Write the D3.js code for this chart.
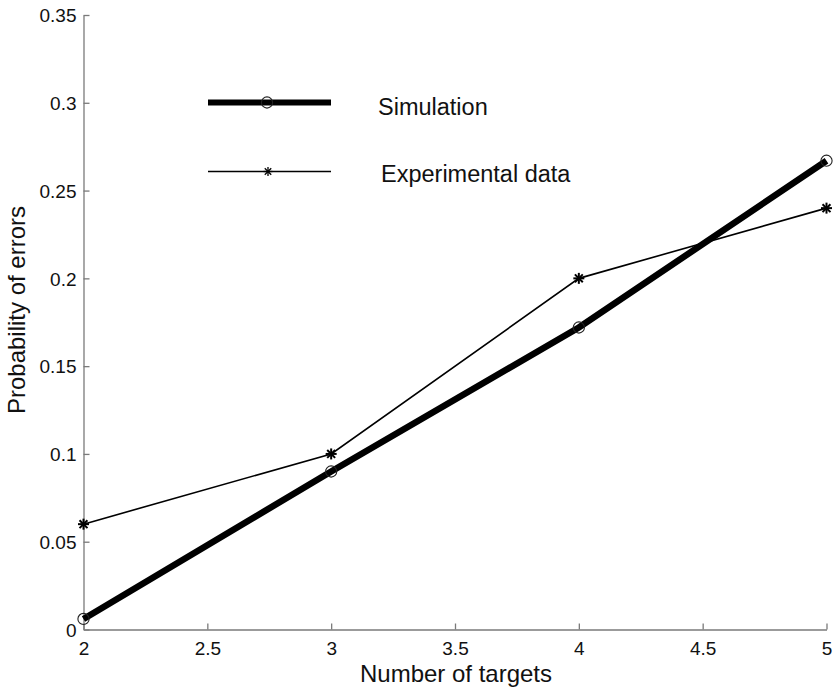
<!DOCTYPE html>
<html>
<head>
<meta charset="utf-8">
<script src="https://cdn.jsdelivr.net/npm/d3@7"></script>
<style>
  body { margin: 0; background: #fff; }
  svg { display: block; font-family: "Liberation Sans", Arial, Helvetica, sans-serif; }
</style>
</head>
<body>
<svg width="836" height="688"></svg>
<script>
// dati
var targets = [2, 3, 4, 5];
var simulation = [0.006, 0.09, 0.172, 0.267];
var experimental = [0.06, 0.1, 0.2, 0.24];
var xTicks = [2, 2.5, 3, 3.5, 4, 4.5, 5];
var yTicks = [0, 0.05, 0.1, 0.15, 0.2, 0.25, 0.3, 0.35];
var legendNames = ["Simulation", "Experimental data"];

var svg = d3.select("svg");
var larghezza = 836, altezza = 688;

var x = d3.scaleLinear().domain([2, 5]).range([83.5, 826.5]);
var y = d3.scaleLinear().domain([0, 0.35]).range([629.5, 15]);

var grigio = "#7a7a7a";

// assi (tacche verso l'interno)
var assex = svg.append("g")
    .attr("transform", "translate(0," + y(0) + ")")
    .call(d3.axisBottom(x).tickValues(xTicks).tickSizeInner(-6).tickSizeOuter(0).tickPadding(13)
        .tickFormat(function(d){ return d3.format("")(d) }));
var assey = svg.append("g")
    .attr("transform", "translate(" + x(2) + ",0)")
    .call(d3.axisLeft(y).tickValues(yTicks).tickSizeInner(-6).tickSizeOuter(0).tickPadding(13)
        .tickFormat(function(d){ return d3.format("")(d) }));

svg.selectAll(".domain").attr("stroke", grigio).attr("stroke-width", 1.3);
svg.selectAll(".tick line").attr("stroke", grigio).attr("stroke-width", 1.3);
svg.selectAll(".tick text").attr("fill", "#111").style("font-size", "19px")
    .style("font-family", "Liberation Sans, Arial, sans-serif");
assey.selectAll(".tick text").attr("x", -7).attr("dy", "0.35em");
assex.selectAll(".tick text").attr("dy", "0.71em").attr("y", 12);

// etichette assi
svg.append("text")
    .attr("x", (x(2) + x(5)) / 2 + 1)
    .attr("y", 682)
    .attr("text-anchor", "middle")
    .style("font-size", "24px")
    .attr("fill", "#111")
    .text("Number of targets");
svg.append("text")
    .attr("transform", "translate(25,310) rotate(-90)")
    .attr("text-anchor", "middle")
    .style("font-size", "24px")
    .attr("fill", "#111")
    .text("Probability of errors");

// linee
var punti = function(vals){
    return vals.map(function(v, i){ return [targets[i], v] });
};
var linea = d3.line().x(function(d){ return x(d[0]) }).y(function(d){ return y(d[1]) });

svg.append("path")
    .datum(punti(experimental))
    .attr("d", linea)
    .attr("fill", "none")
    .attr("stroke", "#000")
    .attr("stroke-width", 1.6);

svg.append("path")
    .datum(punti(simulation))
    .attr("d", linea)
    .attr("fill", "none")
    .attr("stroke", "#000")
    .attr("stroke-width", 6.5);

// marcatori
function stella(g, cx, cy, r, w){
    var s = g.append("g").attr("transform", "translate(" + cx + "," + cy + ")");
    var d = r * 0.72;
    [[-r,0,r,0],[0,-r,0,r],[-d,-d,d,d],[-d,d,d,-d]].forEach(function(l){
        s.append("line")
            .attr("x1", l[0]).attr("y1", l[1]).attr("x2", l[2]).attr("y2", l[3])
            .attr("stroke", "#000").attr("stroke-width", w);
    });
}

svg.append("g").selectAll("circle")
    .data(punti(simulation))
    .enter().append("circle")
    .attr("cx", function(d){ return x(d[0]) })
    .attr("cy", function(d){ return y(d[1]) })
    .attr("r", 5.6)
    .attr("fill", "none")
    .attr("stroke", "#222")
    .attr("stroke-width", 1.1);

var stelle = svg.append("g");
punti(experimental).forEach(function(d){
    stella(stelle, x(d[0]), y(d[1]), 5.5, 2);
});

// legenda
var leg = svg.append("g");
leg.append("line")
    .attr("x1", 208).attr("x2", 331).attr("y1", 102.5).attr("y2", 102.5)
    .attr("stroke", "#000").attr("stroke-width", 6);
leg.append("circle")
    .attr("cx", 267).attr("cy", 102.5).attr("r", 5.6)
    .attr("fill", "none").attr("stroke", "#222").attr("stroke-width", 1.1);
leg.append("line")
    .attr("x1", 208).attr("x2", 331).attr("y1", 171.5).attr("y2", 171.5)
    .attr("stroke", "#000").attr("stroke-width", 1.6);
stella(leg, 268, 171.5, 4.5, 1.3);

leg.append("text")
    .attr("x", 378).attr("y", 115)
    .style("font-size", "23.5px").attr("fill", "#111")
    .text(legendNames[0]);
leg.append("text")
    .attr("x", 381).attr("y", 182)
    .style("font-size", "23.5px").attr("fill", "#111")
    .text(legendNames[1]);
</script>
</body>
</html>
